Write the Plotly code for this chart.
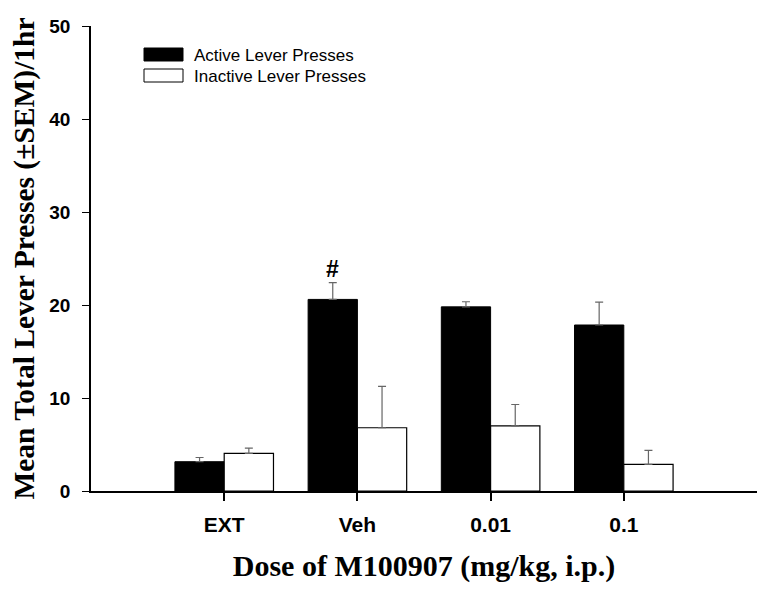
import plotly.graph_objects as go

categories = ["EXT", "Veh", "0.01", "0.1"]
active_mean = [3.15, 20.6, 19.8, 17.85]
active_sem = [0.45, 1.8, 0.55, 2.45]
inactive_mean = [4.05, 6.8, 7.0, 2.87]
inactive_sem = [0.55, 4.45, 2.3, 1.5]
y_ticks = [0, 10, 20, 30, 40, 50]
x_positions = [0, 1, 2, 3]

fig = go.Figure()
fig.add_trace(go.Bar(
    x=x_positions, y=active_mean, name="Active Lever Presses",
    marker=dict(color="black", line=dict(color="black", width=1)),
    error_y=dict(type="data", array=active_sem, symmetric=False, arrayminus=[0]*4,
                 color="#666666", thickness=1.2, width=4),
))
fig.add_trace(go.Bar(
    x=x_positions, y=inactive_mean, name="Inactive Lever Presses",
    marker=dict(color="white", line=dict(color="black", width=1.2)),
    error_y=dict(type="data", array=inactive_sem, symmetric=False, arrayminus=[0]*4,
                 color="#666666", thickness=1.2, width=4),
))

# "#" significance marker above Veh active bar
fig.add_annotation(x=1 - 0.185, y=active_mean[1] + active_sem[1], yshift=14,
                   text="<b>#</b>", showarrow=False,
                   font=dict(family="Liberation Sans, Arial", size=23, color="black"))

# custom legend (page body has an 8px margin, so figure coords = viewport - 8)
PL, PT = 83, 18
PW, PH = 666.0, 465.0
legend_items = [("Active Lever Presses", "black"), ("Inactive Lever Presses", "white")]
for i, (label, col) in enumerate(legend_items):
    top = 48 + i * 21 - 8 - PT
    fig.add_shape(type="rect", xref="paper", yref="paper",
                  x0=(144 - 8 - PL) / PW, x1=(183 - 8 - PL) / PW,
                  y0=1 - (top + 13) / PH, y1=1 - top / PH,
                  fillcolor=col, line=dict(color="black", width=1))
    fig.add_annotation(xref="paper", yref="paper", x=(192 - 8 - PL) / PW, y=1 - (top + 7) / PH,
                       xanchor="left", yanchor="middle", text=label, showarrow=False,
                       font=dict(family="Liberation Sans, Arial", size=17, color="black"))

fig.update_layout(
    width=761, height=587,
    margin=dict(l=PL, r=12, t=PT, b=104, autoexpand=False),
    paper_bgcolor="white", plot_bgcolor="white",
    barmode="group", bargap=0.26, bargroupgap=0,
    showlegend=False,
    font=dict(family="Liberation Sans, Arial", color="black"),
)
fig.update_xaxes(
    range=[-1, 4], tickmode="array", tickvals=x_positions, ticktext=categories,
    showline=True, linecolor="black", linewidth=2, ticks="outside", ticklen=8,
    tickwidth=1.5, tickcolor="black", showgrid=False, zeroline=False, automargin=False,
    tickfont=dict(family="Liberation Sans, Arial", size=21, color="black", weight="bold"),
    ticklabelstandoff=6,
    title=dict(text="<b>Dose of M100907 (mg/kg, i.p.)</b>", standoff=20,
               font=dict(family="Liberation Serif, Times New Roman", size=30, color="black")),
)
fig.update_yaxes(
    range=[0, 50], tickmode="array", tickvals=y_ticks,
    showline=True, linecolor="black", linewidth=1.5, ticks="outside", ticklen=7,
    tickwidth=1.2, tickcolor="black", showgrid=False, zeroline=False, automargin=False,
    tickfont=dict(family="Liberation Sans, Arial", size=19, color="black", weight="bold"),
    ticklabelstandoff=8,
    title=dict(text="<b>Mean Total Lever Presses (±SEM)/1hr</b>", standoff=10,
               font=dict(family="Liberation Serif, Times New Roman", size=29.5, color="black")),
)

fig.write_html("out.html")
